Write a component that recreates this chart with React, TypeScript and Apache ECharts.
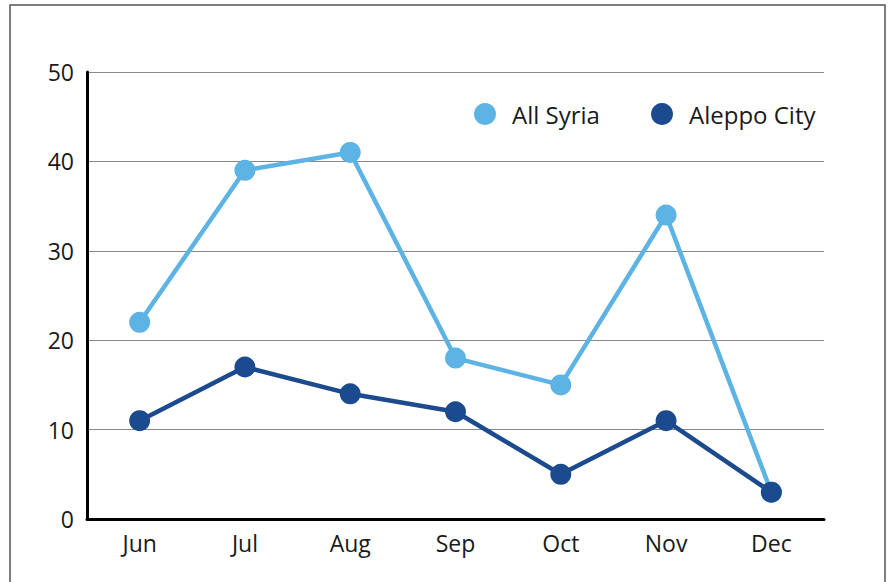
import React, { useEffect, useRef } from "react";
import * as echarts from "echarts";

const months = ["Jun", "Jul", "Aug", "Sep", "Oct", "Nov", "Dec"];
const allSyria = [22, 39, 41, 18, 15, 34, 3];
const aleppoCity = [11, 17, 14, 12, 5, 11, 3];
const seriesNames = ["All Syria", "Aleppo City"];
const colors = ["#5DB3E4", "#1B4A8E"];

export default function App() {
  const ref = useRef<HTMLDivElement>(null);
  useEffect(() => {
    if (!ref.current) return;
    const chart = echarts.init(ref.current, null, { renderer: "svg" });
    const font = "'Open Sans', sans-serif";
    const legendBase = {
      top: 97,
      padding: 5,
      icon: "circle",
      itemWidth: 22,
      itemHeight: 22,
      textStyle: {
        fontSize: 24,
        color: "#1a1a1a",
        fontFamily: font,
        padding: [0, 0, 0, 11],
      },
    };
    chart.setOption({
      animation: false,
      backgroundColor: "#fff",
      graphic: [
        {
          type: "rect",
          shape: { x: 10, y: 5, width: 875, height: 600 },
          style: { fill: "none", stroke: "#555", lineWidth: 1.5 },
          silent: true,
        },
      ],
      legend: [
        { ...legendBase, left: 469, data: [seriesNames[0]] },
        { ...legendBase, left: 646, data: [seriesNames[1]] },
      ],
      grid: { left: 87, right: 67, top: 72, bottom: 63 },
      xAxis: {
        type: "category",
        data: months,
        boundaryGap: true,
        axisLine: { lineStyle: { color: "#000", width: 3 } },
        axisTick: { show: false },
        axisLabel: { fontSize: 23, color: "#1a1a1a", margin: 12, fontFamily: font },
      },
      yAxis: {
        type: "value",
        min: 0,
        max: 50,
        interval: 10,
        axisLine: { show: true, lineStyle: { color: "#000", width: 3 } },
        axisTick: { show: false },
        splitLine: { lineStyle: { color: "#888", width: 1 } },
        axisLabel: { fontSize: 23, color: "#1a1a1a", margin: 13, fontFamily: font },
      },
      series: [
        {
          name: seriesNames[0],
          type: "line",
          data: allSyria,
          color: colors[0],
          symbol: "circle",
          symbolSize: 21,
          lineStyle: { width: 4.5 },
        },
        {
          name: seriesNames[1],
          type: "line",
          data: aleppoCity,
          color: colors[1],
          symbol: "circle",
          symbolSize: 21,
          lineStyle: { width: 4.5 },
        },
      ],
    });
    return () => chart.dispose();
  }, []);
  return (
    <div
      ref={ref}
      style={{ position: "absolute", left: 0, top: 0, width: 891, height: 582 }}
    />
  );
}
